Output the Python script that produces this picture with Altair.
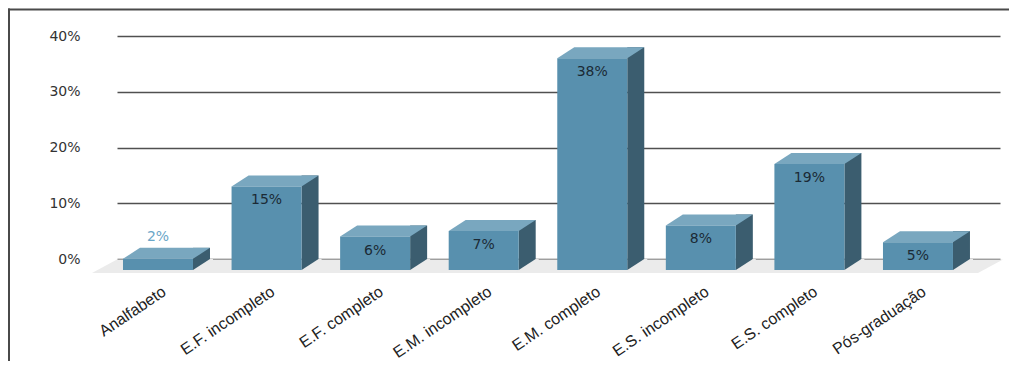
import altair as alt
import pandas as pd

# ---- data ----
categories = ["Analfabeto", "E.F. incompleto", "E.F. completo", "E.M. incompleto",
              "E.M. completo", "E.S. incompleto", "E.S. completo", "Pós-graduação"]
values = [2, 15, 6, 7, 38, 8, 19, 5]
value_labels = [f"{v}%" for v in values]
y_ticks = [0, 10, 20, 30, 40]

df = pd.DataFrame({"cat": categories, "pct": values, "lab": value_labels})
one = pd.DataFrame({"base": [0]})

# ---- style ----
W, H = 883, 223
DX, DY, HALF = 17, 11, 35
FRONT = "#5890ae"
TOP = "#79a7bf"
SIDE = "#3b5d6f"
FLOOR = "#ebebeb"

x_enc = alt.X("cat:N", sort=categories,
              scale=alt.Scale(paddingInner=0.3553, paddingOuter=0.2442, align=0.113, round=False),
              axis=alt.Axis(title=None, labelAngle=-34, labelAlign="right", labelBaseline="top",
                            labelOffset=2, labelPadding=24, ticks=False, tickSize=0, domain=False,
                            grid=False, labelFont="Liberation Sans", labelFontSize=16,
                            labelColor="#222222", labelLimit=300))
y_scale = alt.Scale(domain=[0, 40], nice=False, zero=True)
y_enc = alt.Y("pct:Q", scale=y_scale,
              axis=alt.Axis(title=None, values=y_ticks, labelExpr="datum.value + '%'",
                            grid=True, gridColor="#505050", gridWidth=1.3, domain=False,
                            ticks=False, tickSize=0, labelPadding=37, labelFont="DejaVu Sans",
                            labelFontSize=14, labelColor="#333333"))

base = alt.Chart(df)

floor = alt.Chart(one).mark_point(
    shape=f"M0,0.6 L886,0.6 L861,14 L-25,14 Z", size=4, filled=True,
    fill=FLOOR, opacity=1, strokeWidth=0
).encode(x=alt.value(0), y=alt.Y("base:Q", scale=y_scale))

side = base.mark_bar(width=DX, xOffset=HALF + DX / 2, y2Offset=DY, color=SIDE).encode(
    x=x_enc, y=y_enc, y2=alt.datum(0))

cover = base.mark_point(
    shape=f"M{HALF+DX},0 L{HALF+DX+3},0 L{HALF+DX+3},{DY+2} L{HALF-2},{DY+2} L{HALF},{DY} Z",
    size=4, filled=True, fill=FLOOR, opacity=1, strokeWidth=0
).encode(x=x_enc, y=alt.datum(0))

top = base.mark_point(
    shape=f"M{-HALF},{DY} L{HALF},{DY} L{HALF+DX},0 L{-HALF+DX},0 Z",
    size=4, filled=True, fill=TOP, opacity=1, strokeWidth=0
).encode(x=x_enc, y=y_enc)

front = base.mark_bar(yOffset=DY, y2Offset=DY, color=FRONT).encode(
    x=x_enc, y=y_enc, y2=alt.datum(0))

lab_in = base.transform_filter(alt.datum.pct >= 4).mark_text(
    yOffset=DY + 14, baseline="middle", align="center", font="DejaVu Sans",
    fontSize=14, color="#1b2a35"
).encode(x=x_enc, y=y_enc, text="lab:N")

lab_out = base.transform_filter(alt.datum.pct < 4).mark_text(
    yOffset=-11, baseline="middle", align="center", font="DejaVu Sans",
    fontSize=14, color="#6aa6c8"
).encode(x=x_enc, y=y_enc, text="lab:N")

frame_top = alt.Chart(one).mark_rule(color="#4a4a4a", strokeWidth=2).encode(
    x=alt.value(-109), x2=alt.value(W + 9), y=alt.value(-26.5))
frame_left = alt.Chart(one).mark_rule(color="#4a4a4a", strokeWidth=2).encode(
    x=alt.value(-108), y=alt.value(-27.5), y2=alt.value(H + 110))

chart = alt.layer(floor, side, cover, top, front, lab_in, lab_out, frame_top, frame_left).properties(
    width=W, height=H, autosize="none",
    padding={"left": 109, "top": 28, "right": 9, "bottom": 102}
).configure_view(stroke=None)

chart.save("out.html", embed_options={"renderer": "svg", "actions": False})
